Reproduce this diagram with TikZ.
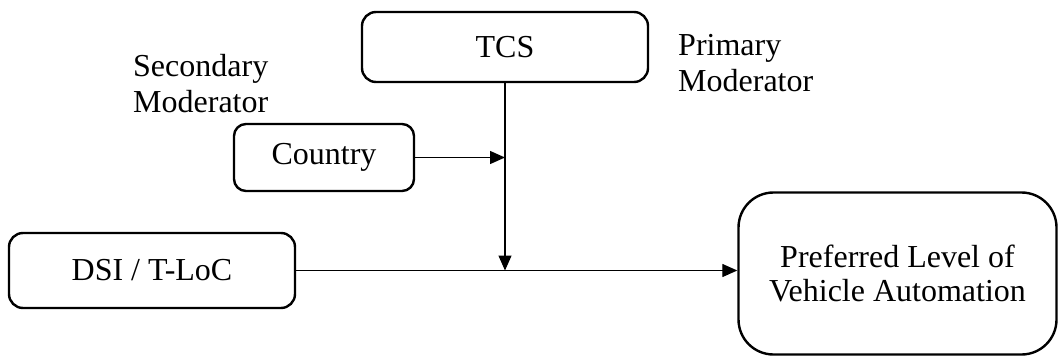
\documentclass[tikz,border=0pt]{standalone}
\usepackage{fontspec}
\setmainfont{Liberation Serif}
\usetikzlibrary{arrows.meta}
\begin{document}
\begin{tikzpicture}[x=1pt,y=-1pt,
  box/.style={draw, line width=2.4pt, rounded corners=14pt, inner sep=0pt, align=center, font=\fontsize{32}{34}\selectfont},
  lbl/.style={inner sep=0pt, anchor=north west, align=left, font=\fontsize{32}{36}\selectfont},
  arr/.style={line width=1.3pt, -{Triangle[length=15pt,width=13pt]}}]
\useasboundingbox (0,0) rectangle (1059,356);
\node[box, minimum width=286pt, minimum height=70pt] (tcs) at (505,47) {TCS};
\node[box, minimum width=180pt, minimum height=67pt, rounded corners=12pt] (country) at (324,157.5) {Country};
\node[box, minimum width=286pt, minimum height=75pt] (dsi) at (152,270.5) {DSI / T-LoC};
\node[box, minimum width=318pt, minimum height=162pt, rounded corners=35pt] (pref) at (897.5,273.5) {Preferred Level of\\Vehicle Automation};
\node[lbl] (sec) at (133,54) {Secondary\\Moderator};
\node[lbl] (prim) at (678,34) {Primary\\Moderator};
\draw[arr] (country.east) -- (country.east -| tcs.south);
\draw[arr] (tcs.south) -- (tcs.south |- dsi.east);
\draw[arr] (dsi.east) -- (dsi.east -| pref.west);
\end{tikzpicture}
\end{document}
